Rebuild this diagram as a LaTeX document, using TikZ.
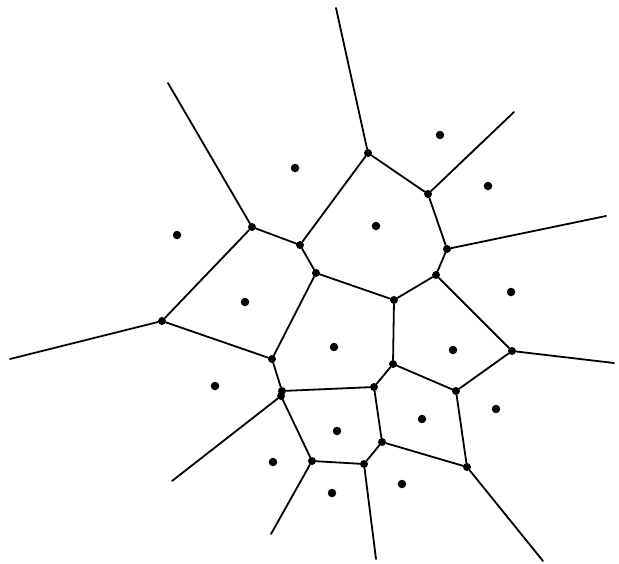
\documentclass[tikz,border=0pt]{standalone}
\usepackage{tikz}

\begin{document}
\begin{tikzpicture}[x=1pt, y=-1pt,
    edge/.style={line width=1.8pt, line cap=round},
    vertex/.style={circle, fill=black, inner sep=0pt, minimum size=8pt},
    site/.style={circle, fill=black, inner sep=0pt, minimum size=8.5pt}]

    \useasboundingbox (0,0) rectangle (619,563);

    % Voronoi vertices
    \node[vertex] (v1) at (368,153) {};
    \node[vertex] (v2) at (428,194) {};
    \node[vertex] (v3) at (447,249) {};
    \node[vertex] (v4) at (436,275) {};
    \node[vertex] (v5) at (394,300) {};
    \node[vertex] (v6) at (316,273) {};
    \node[vertex] (v7) at (300,245) {};
    \node[vertex] (v8) at (252,227) {};
    \node[vertex] (v9) at (162,321) {};
    \node[vertex] (v10) at (272,359) {};
    \node[vertex] (v11) at (282,391) {};
    \node[vertex] (v12) at (281,396) {};
    \node[vertex] (v13) at (374,387) {};
    \node[vertex] (v14) at (393,364) {};
    \node[vertex] (v15) at (456,391) {};
    \node[vertex] (v16) at (512,351) {};
    \node[vertex] (v17) at (382,442) {};
    \node[vertex] (v18) at (467,467) {};
    \node[vertex] (v19) at (364,464) {};
    \node[vertex] (v20) at (312,461) {};

    % open ends of the unbounded edges
    \coordinate (e1) at (336,8);
    \coordinate (e2) at (514,112);
    \coordinate (e3) at (606,216);
    \coordinate (e4) at (614,363);
    \coordinate (e5) at (543,561);
    \coordinate (e6) at (376,559);
    \coordinate (e7) at (271,534);
    \coordinate (e8) at (172,481);
    \coordinate (e9) at (10,359);
    \coordinate (e10) at (168,83);

    % bounded edges
    \draw[edge] (v1) -- (v2);
    \draw[edge] (v1) -- (v7);
    \draw[edge] (v2) -- (v3);
    \draw[edge] (v3) -- (v4);
    \draw[edge] (v4) -- (v5);
    \draw[edge] (v4) -- (v16);
    \draw[edge] (v5) -- (v6);
    \draw[edge] (v5) -- (v14);
    \draw[edge] (v6) -- (v7);
    \draw[edge] (v6) -- (v10);
    \draw[edge] (v7) -- (v8);
    \draw[edge] (v8) -- (v9);
    \draw[edge] (v9) -- (v10);
    \draw[edge] (v10) -- (v11);
    \draw[edge] (v11) -- (v12);
    \draw[edge] (v11) -- (v13);
    \draw[edge] (v13) -- (v14);
    \draw[edge] (v13) -- (v17);
    \draw[edge] (v14) -- (v15);
    \draw[edge] (v15) -- (v16);
    \draw[edge] (v15) -- (v18);
    \draw[edge] (v17) -- (v18);
    \draw[edge] (v17) -- (v19);
    \draw[edge] (v19) -- (v20);
    \draw[edge] (v20) -- (v12);

    % unbounded edges
    \draw[edge] (v1) -- (e1);
    \draw[edge] (v2) -- (e2);
    \draw[edge] (v3) -- (e3);
    \draw[edge] (v16) -- (e4);
    \draw[edge] (v18) -- (e5);
    \draw[edge] (v19) -- (e6);
    \draw[edge] (v20) -- (e7);
    \draw[edge] (v12) -- (e8);
    \draw[edge] (v9) -- (e9);
    \draw[edge] (v8) -- (e10);

    % sites
    \node[site] (s1) at (295,168) {};
    \node[site] (s2) at (440,135) {};
    \node[site] (s3) at (488,186) {};
    \node[site] (s4) at (177,235) {};
    \node[site] (s5) at (376,226) {};
    \node[site] (s6) at (245,302) {};
    \node[site] (s7) at (511,292) {};
    \node[site] (s8) at (334,347) {};
    \node[site] (s9) at (453,350) {};
    \node[site] (s10) at (215,386) {};
    \node[site] (s11) at (496,409) {};
    \node[site] (s12) at (422,419) {};
    \node[site] (s13) at (337,431) {};
    \node[site] (s14) at (273,462) {};
    \node[site] (s15) at (402,484) {};
    \node[site] (s16) at (332,493) {};

\end{tikzpicture}
\end{document}
